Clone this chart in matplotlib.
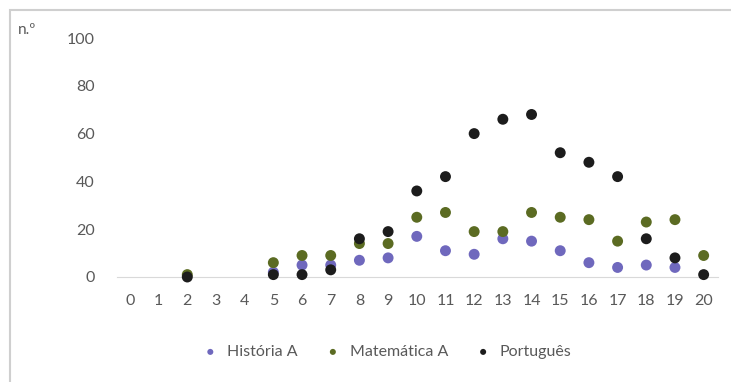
import numpy as np
import matplotlib.pyplot as plt
from matplotlib.patches import Rectangle

nan = np.nan
notas = list(range(0, 21))
historia = [nan, nan, nan, nan, nan, 2, 5, 5, 7, 8, 17, 11, 9.5, 16, 15, 11, 6, 4, 5, 4, nan]
matematica = [nan, nan, 1, nan, nan, 6, 9, 9, 14, 14, 25, 27, 19, 19, 27, 25, 24, 15, 23, 24, 9]
portugues = [nan, nan, 0, nan, nan, 1, 1, 3, 16, 19, 36, 42, 60, 66, 68, 52, 48, 42, 16, 8, 1]

series = [
    ('História A', historia, '#6f68bd'),
    ('Matemática A', matematica, '#5b6b22'),
    ('Português', portugues, '#1c1c1c'),
]

plt.rcParams['font.family'] = ['Lato', 'DejaVu Sans']

W, H = 731, 382
fig = plt.figure(figsize=(W / 100, H / 100), dpi=100)
# moldura (só visível à esquerda e em cima)
fig.patches.append(Rectangle((9.5 / W, -0.1), 1.2, 1.1 - 10.5 / H, transform=fig.transFigure,
                             fill=False, edgecolor='#cfcfcf', linewidth=1.5))

ax = fig.add_axes([117 / W, 1 - 277 / H, 601 / W, 239 / H])

for nome, vals, cor in series:
    ax.scatter(notas, vals, s=62, color=cor, label=nome, clip_on=False, zorder=3,
               edgecolors='none')

ax.set_xlim(-0.45, 20.5)
ax.set_ylim(0, 100)
ax.set_xticks(notas)
ax.set_yticks(range(0, 101, 20))
for s in ['top', 'right', 'left']:
    ax.spines[s].set_visible(False)
ax.spines['bottom'].set_color('#d9d9d9')
ax.tick_params(length=0, labelsize=11.5, colors='#595959')
ax.tick_params(axis='x', pad=12)
ax.tick_params(axis='y', pad=16)

fig.text(18 / W, 1 - 30 / H, 'n.º', fontsize=11, color='#595959', va='center')

leg = fig.legend(loc='center', bbox_to_anchor=(383 / W, 1 - 352 / H), ncol=3, frameon=False,
                 fontsize=11.5, markerscale=0.55, handletextpad=0.05, columnspacing=1.2)
for t in leg.get_texts():
    t.set_color('#595959')

fig.savefig('out.png', dpi=100)
